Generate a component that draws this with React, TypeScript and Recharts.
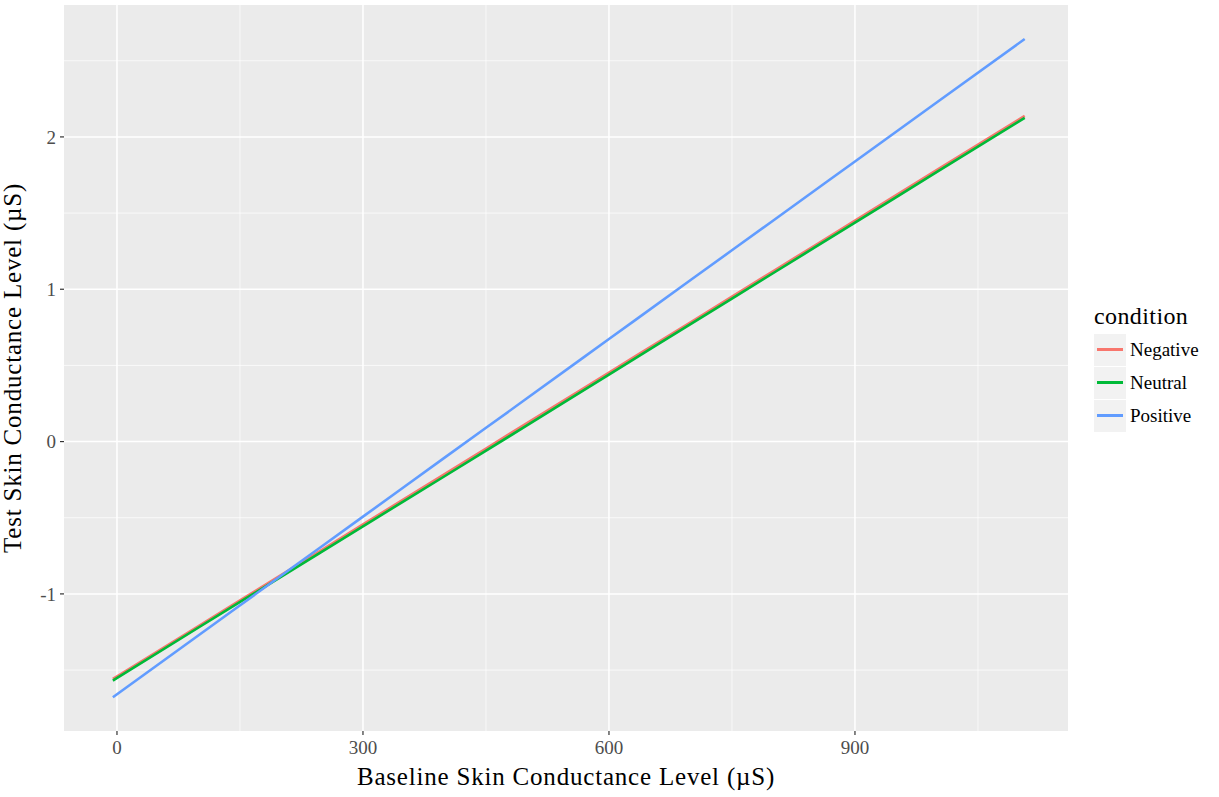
import { CartesianGrid, Line, LineChart, XAxis, YAxis } from "recharts";

// Fitted test-vs-baseline skin conductance, one smooth per condition.
const baseline = [-5, 100, 200, 300, 400, 500, 600, 700, 800, 900, 1000, 1107];
const negative = [-1.558, -1.209, -0.877, -0.544, -0.212, 0.121, 0.453, 0.785, 1.118, 1.45, 1.783, 2.138];
const neutral = [-1.569, -1.219, -0.888, -0.556, -0.226, 0.106, 0.44, 0.772, 1.105, 1.437, 1.77, 2.125];
const positive = [-1.678, -1.27, -0.881, -0.493, -0.104, 0.284, 0.673, 1.062, 1.45, 1.839, 2.228, 2.643];

const xTicks = [0, 300, 600, 900];
const xMinor = [150, 450, 750, 1050];
const yTicks = [-1, 0, 1, 2];
const yMinor = [-1.5, -0.5, 0.5, 1.5, 2.5];

const conditions = [
  { key: "Negative", color: "#F8766D" },
  { key: "Neutral", color: "#00BA38" },
  { key: "Positive", color: "#619CFF" },
];

const rows = baseline.map((x, i) => ({
  x,
  Negative: negative[i],
  Neutral: neutral[i],
  Positive: positive[i],
}));

const SERIF = "'Liberation Serif', 'Times New Roman', serif";

function ConditionLegend() {
  return (
    <div style={{ position: "absolute", left: 1094, top: 301, fontFamily: SERIF, color: "#000" }}>
      <div style={{ fontSize: 24, lineHeight: "30px", marginBottom: 2, letterSpacing: 0.4 }}>condition</div>
      {conditions.map((c) => (
        <div key={c.key} style={{ display: "flex", alignItems: "center", height: 33 }}>
          <div style={{ width: 32, height: 32, background: "#F2F2F2", display: "flex", alignItems: "center", justifyContent: "center" }}>
            <div style={{ width: 26, height: 2.5, background: c.color }} />
          </div>
          <span style={{ fontSize: 19, marginLeft: 4 }}>{c.key}</span>
        </div>
      ))}
    </div>
  );
}

export default function App() {
  return (
    <div style={{ position: "absolute", left: 0, top: 0, width: 1219, height: 797, background: "#fff" }}>
      <LineChart width={1219} height={797} data={rows} margin={{ top: 5, right: 151, bottom: 0, left: 0 }}>
        <CartesianGrid fill="#EBEBEB" stroke="#fff" strokeWidth={0.7} horizontalValues={yMinor} verticalValues={xMinor} />
        <CartesianGrid stroke="#fff" strokeWidth={1.5} horizontalValues={yTicks} verticalValues={xTicks} />
        <XAxis
          type="number"
          dataKey="x"
          domain={[-64.6, 1159.8]}
          ticks={xTicks}
          allowDataOverflow
          height={66}
          tickSize={4}
          tickMargin={6}
          axisLine={false}
          tickLine={{ stroke: "#333", strokeWidth: 1.2 }}
          tick={{ fill: "#4D4D4D", fontSize: 19, fontFamily: SERIF }}
          label={{ value: "Baseline Skin Conductance Level (µS)", position: "insideBottom", offset: 12, fill: "#000", fontSize: 25, letterSpacing: 0.8, fontFamily: SERIF }}
        />
        <YAxis
          type="number"
          domain={[-1.9, 2.866]}
          ticks={yTicks}
          allowDataOverflow
          width={64}
          tickSize={4}
          tickMargin={4}
          axisLine={false}
          tickLine={{ stroke: "#333", strokeWidth: 1.2 }}
          tick={{ fill: "#4D4D4D", fontSize: 19, fontFamily: SERIF }}
          label={{ value: "Test Skin Conductance Level (µS)", angle: -90, position: "insideLeft", offset: 12, style: { textAnchor: "middle" }, fill: "#000", fontSize: 25, letterSpacing: 0.8, fontFamily: SERIF }}
        />
        {conditions.map((c) => (
          <Line
            key={c.key}
            type="monotone"
            dataKey={c.key}
            stroke={c.color}
            strokeWidth={2.6}
            dot={false}
            isAnimationActive={false}
          />
        ))}
      </LineChart>
      <ConditionLegend />
    </div>
  );
}
